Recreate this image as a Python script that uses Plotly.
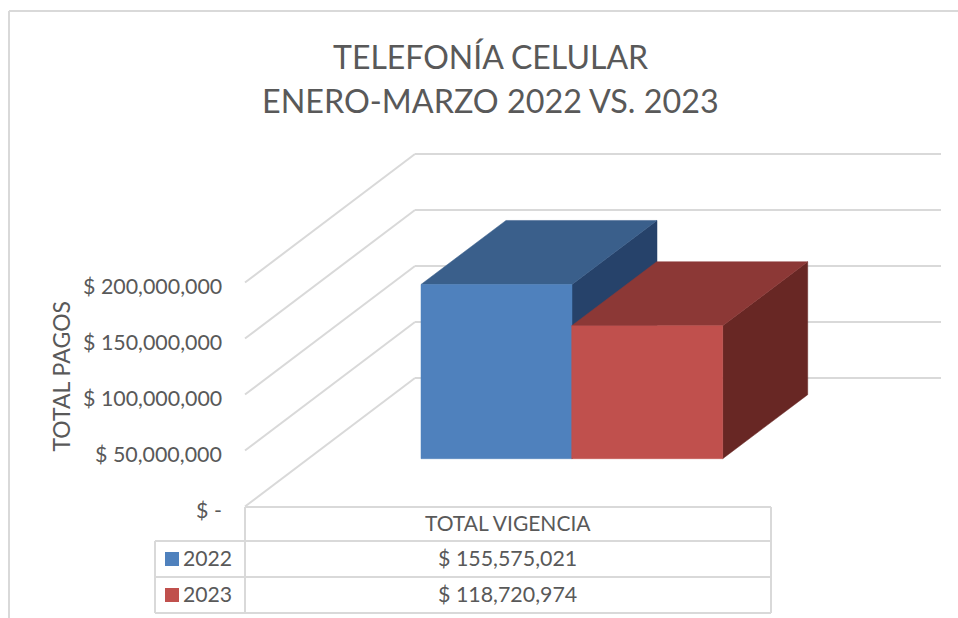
import plotly.graph_objects as go

# ---- data ----
series_names = ["2022", "2023"]
series_values = [155575021, 118720974]
value_labels = ["$ 155,575,021", "$ 118,720,974"]
category = "TOTAL VIGENCIA"
tick_values = [0, 50000000, 100000000, 150000000, 200000000]
tick_labels = ["$ -", "$ 50,000,000", "$ 100,000,000", "$ 150,000,000", "$ 200,000,000"]
title_lines = ["TELEFONÍA CELULAR", "ENERO-MARZO 2022 VS. 2023"]
axis_title = "TOTAL PAGOS"

# ---- styles / layout constants ----
W, H = 958, 618
FONT = "Lato"
TXT = "#595959"
GRID = "#d9d9d9"
front_colors = ["#4f81bd", "#c0504d"]
top_colors = ["#3a5f8b", "#8c3836"]
side_colors = ["#26426a", "#682724"]

BASE_PX = 458.7          # pixel row of the value 0 in the bars' front plane
K = 56 / 50000000        # pixels per unit of value
BAR_LEFT = [421, 571.7]
BAR_W = 151
DX, DY = 85, 64          # oblique depth of a bar, px
DYV = DY / K
FLOOR_FRONT_X, FLOOR_BACK_X, WALL_RIGHT = 245, 415, 941
FRONT_ZERO_PX, BACK_ZERO_PX = 506.5, 378


def px2v(py):
    return (BASE_PX - py) / K


def paper(py):
    return 1 - py / H


fig = go.Figure()


def face(xs, ys, col, name=None):
    fig.add_trace(go.Scatter(x=xs, y=ys, fill="toself", fillcolor=col, mode="lines",
                             line=dict(width=0.5, color=col), name=name,
                             showlegend=False, hoverinfo="skip"))


# three faces of each bar, projected from its value
for name, val, left, fc, tc, sc in zip(series_names, series_values, BAR_LEFT,
                                       front_colors, top_colors, side_colors):
    r = left + BAR_W
    face([r, r + DX, r + DX, r, r], [0, DYV, val + DYV, val, 0], sc)
    face([left, left + DX, r + DX, r, left], [val, val + DYV, val + DYV, val, val], tc)
    face([left, r, r, left, left], [0, 0, val, val, 0], fc, name)

# legend keys in the data table
for i, col in enumerate(front_colors):
    fig.add_trace(go.Scatter(x=[172], y=[px2v(559 + 36 * i)], mode="markers",
                             marker=dict(symbol="square", size=14, color=col, line=dict(width=0)),
                             showlegend=False, hoverinfo="skip"))

shapes = []


def line(x0, y0, x1, y1, w=2):
    shapes.append(dict(type="line", xref="x", yref="y", x0=x0, x1=x1,
                       y0=px2v(y0), y1=px2v(y1), layer="below",
                       line=dict(color=GRID, width=w)))


# walls and floor, derived from the tick values
for v in tick_values:
    off = v * K
    line(FLOOR_FRONT_X, FRONT_ZERO_PX - off, FLOOR_BACK_X, BACK_ZERO_PX - off)
    line(FLOOR_BACK_X, BACK_ZERO_PX - off, WALL_RIGHT, BACK_ZERO_PX - off)

# outer frame
line(9, 11, W, 11)
line(9, 11, 9, H)

# data table
TABLE_L, TABLE_M, TABLE_R = 155, 245, 771
ROW_Y = [507, 541, 577, 613]
line(TABLE_M, ROW_Y[0], TABLE_R, ROW_Y[0])
line(TABLE_L, ROW_Y[1], TABLE_R, ROW_Y[1])
line(TABLE_L, ROW_Y[2], TABLE_R, ROW_Y[2])
line(TABLE_L, ROW_Y[3], TABLE_R, ROW_Y[3])
line(TABLE_L, ROW_Y[1], TABLE_L, ROW_Y[3])
line(TABLE_M, ROW_Y[0], TABLE_M, ROW_Y[3])
line(TABLE_R, ROW_Y[0], TABLE_R, ROW_Y[3])

ann = []


def text(x, py, s, size, anchor="center", angle=0):
    ann.append(dict(x=x, y=paper(py), xref="x", yref="paper", text=s, showarrow=False,
                    xanchor=anchor, yanchor="middle", textangle=angle,
                    font=dict(family=FONT, size=size, color=TXT)))


text(490, 56, title_lines[0], 32)
text(490, 100.5, title_lines[1], 32.3)
text(60.5, 376, axis_title, 23, angle=-90)
for v, lab in zip(tick_values, tick_labels):
    text(223.5, FRONT_ZERO_PX + 3.5 - v * K, lab, 21.4, anchor="right")
text(508, 522.5, category, 21)
for i, (n, lab) in enumerate(zip(series_names, value_labels)):
    text(181, 558 + 36 * i, n, 21.2, anchor="left")
    text(507.5, 557.5 + 36 * i, lab, 21.4)

fig.update_layout(
    width=W, height=H, margin=dict(l=0, r=0, t=0, b=0),
    paper_bgcolor="white", plot_bgcolor="white",
    showlegend=False,
    xaxis=dict(range=[0, W], visible=False, fixedrange=True),
    yaxis=dict(range=[px2v(H), px2v(0)], visible=False, fixedrange=True),
    shapes=shapes, annotations=ann,
)

fig.write_html("out.html", config={"displayModeBar": False},
               post_script="document.body.style.margin='0';document.body.style.overflow='hidden';")
